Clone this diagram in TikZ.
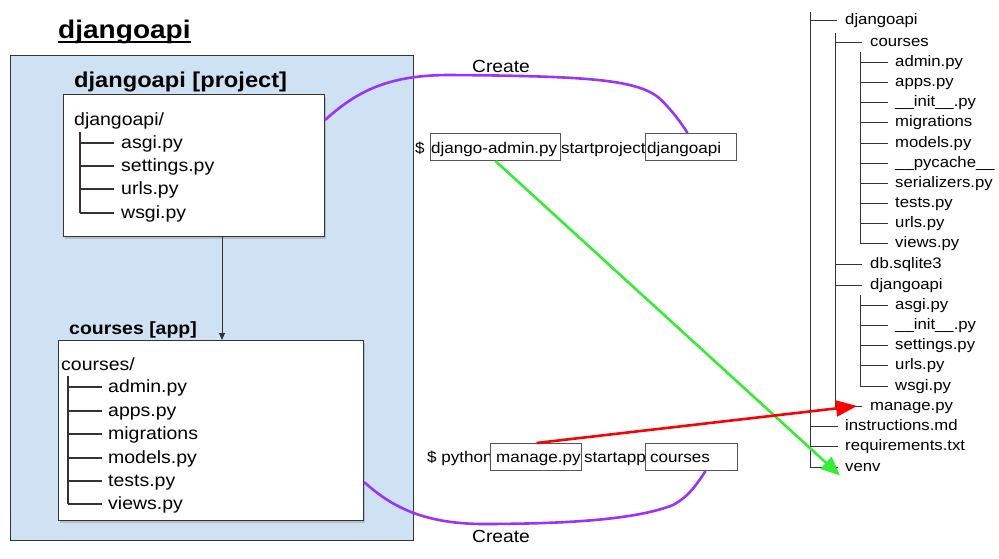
\documentclass[tikz,border=0pt]{standalone}
\usepackage{fontspec}
\setmainfont{Liberation Sans}[FakeStretch=1.1]
\usetikzlibrary{arrows.meta,shadows}
\definecolor{bluebg}{HTML}{CFE2F3}
\definecolor{purp}{HTML}{9933FF}
\definecolor{grn}{HTML}{33EE33}
\definecolor{boxline}{HTML}{333333}
\definecolor{cmdline}{HTML}{555555}
\begin{document}
\begin{tikzpicture}[x=1pt,y=-1pt,
  panel/.style={draw=boxline, line width=1pt, fill=bluebg, anchor=north west, inner sep=0},
  whitebox/.style={draw=boxline, line width=1.1pt, fill=white, anchor=north west, inner sep=0,
     drop shadow={opacity=0.35, shadow xshift=1.5pt, shadow yshift=-2pt}},
  txtA/.style={font=\fontsize{17.7}{20}\selectfont, inner sep=0, anchor=base west},
  hdr/.style={font=\bfseries\fontsize{21.5}{24}\selectfont, inner sep=0, anchor=base west},
  hdrs/.style={font=\bfseries\fontsize{17.7}{20}\selectfont, inner sep=0, anchor=base west},
  rtree/.style={font=\fontsize{15.2}{18}\selectfont, inner sep=0, anchor=base west},
  cmd/.style={font=\fontsize{15.5}{18}\selectfont, inner sep=0, anchor=base west},
  cmdbox/.style={draw=cmdline, line width=1.1pt, fill=white, minimum height=27pt, inner sep=0, anchor=north west},
  treeline/.style={draw=boxline, line width=1.3pt},
  rline/.style={draw=boxline, line width=1pt},
  createline/.style={draw=purp, line width=2.6pt},
  lbl/.style={font=\fontsize{17.5}{20}\selectfont, inner sep=0}
]
\useasboundingbox (0,0) rectangle (999,558);
\fill[white] (0,0) rectangle (999,558);

% title
\node[font=\bfseries\fontsize{25.5}{28}\selectfont, inner sep=0, anchor=base west] (title) at (58,38) {djangoapi};
\draw[line width=2pt] ([yshift=-4pt]title.base west) -- ([yshift=-4pt]title.base east);

% blue panel
\node[panel, minimum width=403pt, minimum height=485pt] (panel) at (10,55) {};

% project
\node[hdr] (projh) at (74,87) {djangoapi [project]};
\node[whitebox, minimum width=261pt, minimum height=142pt] (proj) at (63,94) {};
\node[txtA] (projroot) at (74,125) {djangoapi/};
\draw[treeline] (80,132) -- (80,213);
\foreach \y/\t in {143/asgi.py,166/settings.py,189/urls.py,213/wsgi.py}{
  \draw[treeline] (80,\y) -- (114,\y);
  \node[txtA] at (121,{\y+5}) {\t};
}

% app
\node[hdrs] (apph) at (69,334) {courses [app]};
\node[whitebox, minimum width=305pt, minimum height=180pt] (app) at (58,340) {};
\node[txtA] (approot) at (61,370) {courses/};
\draw[treeline] (68,376) -- (68,504);
\foreach \y/\t in {387/admin.py,411/apps.py,434/migrations,458/models.py,481/tests.py,504/views.py}{
  \draw[treeline] (68,\y) -- (102,\y);
  \node[txtA] at (108,{\y+5}) {\t};
}

% project -> app arrow
\coordinate (ax) at (222,0);
\draw[line width=1pt, draw=boxline, -{Triangle[length=7pt,width=6pt]}] (proj.south -| ax) -- (app.north -| ax);

% commands
\node[cmd] (dollar1) at (415,153) {\$};
\node[cmdbox, minimum width=130pt] (dadm) at (430,133) {};
\node[cmd] (dadmt) at (431,153) {django-admin.py};
\node[cmd] (sp) at (561,153) {startproject};
\node[cmdbox, minimum width=91pt] (dapi) at (645,133) {};
\node[cmd] (dapit) at (647,153) {djangoapi};

\node[cmd] (dollar2) at (427,462) {\$ python};
\node[cmdbox, minimum width=91pt] (mng) at (490,443) {};
\node[cmd] (mngt) at (496,462) {manage.py};
\node[cmd] (sa) at (584,462) {startapp};
\node[cmdbox, minimum width=92pt] (cbox) at (645,443) {};
\node[cmd] (cboxt) at (650,462) {courses};

% right tree
\draw[rline] (810,12) -- (810,467);
\draw[rline] (835,33) -- (835,406);
\draw[rline] (860,52) -- (860,243);
\draw[rline] (860,295) -- (860,386);
\draw[rline] (810,20) -- (837,20);
\node[rtree] (rdjango) at (845,24.5) {djangoapi};
\foreach \y/\t/\n in {42/courses/rcourses,264/db.sqlite3/rdb,285/djangoapi/rdapi,406/manage.py/rmanage}{
  \draw[rline] (835,\y) -- (862,\y);
  \node[rtree] (\n) at (870,{\y+4.5}) {\t};
}
\foreach \y/\t/\n in {62/admin.py/ra1,82/apps.py/ra2,102/\_\_init\_\_.py/ra3,122/migrations/ra4,143/models.py/ra5,163/\_\_pycache\_\_/ra6,183/serializers.py/ra7,203/tests.py/ra8,223/urls.py/ra9,243/views.py/ra10,
  305/asgi.py/rp1,325/\_\_init\_\_.py/rp2,345/settings.py/rp3,365/urls.py/rp4,386/wsgi.py/rp5}{
  \draw[rline] (860,\y) -- (888,\y);
  \node[rtree] (\n) at (895,{\y+4.5}) {\t};
}
\foreach \y/\t/\n in {426/instructions.md/rinst,446/requirements.txt/rreq,467/venv/rvenv}{
  \draw[rline] (810,\y) -- (838,\y);
  \node[rtree] (\n) at (845,{\y+4.5}) {\t};
}

% create curves
\draw[createline] ([yshift=-26pt]proj.north east) .. controls (358,90) and (390,75) .. (450,75)
   .. controls (590,76) and (635,80) .. (658,97) .. controls (670,108) and (680,121) .. ([xshift=-3.5pt]dapi.north);
\node[lbl] (create1) at (501,66) {Create};

\draw[createline] ([yshift=39pt]app.south east) .. controls (390,505) and (420,523) .. (480,524)
   .. controls (580,524) and (640,518) .. (673,505) .. controls (690,496) and (698,482) .. ([xshift=14pt]cbox.south);
\node[lbl] (create2) at (501,536) {Create};

% green and red arrows
\draw[draw=grn, line width=2.6pt, -{Triangle[length=19pt,width=16pt]}] (dadm.south) -- ([xshift=-5pt,yshift=-4pt]rvenv.base west);
\draw[draw=red, line width=2.6pt, -{Triangle[length=21pt,width=16pt]}] ([xshift=0.5pt]mng.north) -- ([xshift=-13pt,yshift=4.5pt]rmanage.base west);

\end{tikzpicture}
\end{document}
